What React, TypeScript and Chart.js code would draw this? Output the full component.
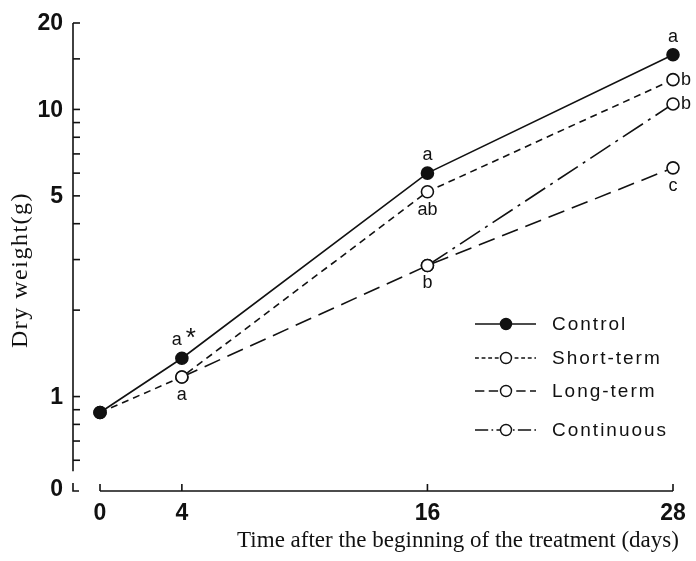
import React, { useEffect, useRef } from "react";
import { Chart, registerables } from "chart.js";

Chart.register(...registerables);

// ---- data ----
const days = [0, 4, 16, 28];
const control = [0.88, 1.36, 6.0, 15.5];
const shortTerm = [0.88, 1.17, 5.17, 12.7];
const longTerm = [null, 1.17, 2.86, 6.26];
const continuous = [null, null, 2.86, 10.45];
const seriesNames = ["Control", "Short-term", "Long-term", "Continuous"];

const yMajorTicks = [1, 5, 10, 20];
const yMinorTicks = [0.6, 0.7, 0.8, 0.9, 2, 3, 4, 6, 7, 8, 9, 15];
const xTickLabels = ["0", "4", "16", "28"];
const yBreakLabel = "0";

const xTitle = "Time after the beginning of the treatment (days)";
const yTitle = "Dry weight(g)";

// significance letters: series index, day index, text
const sigSeries = [0, 1, 0, 1, 2, 0, 1, 3, 2];
const sigDay = [1, 1, 2, 2, 2, 3, 3, 3, 3];
const sigText = ["a*", "a", "a", "ab", "b", "a", "b", "b", "c"];
// placement of letters relative to point
const sigPlace = ["above", "below", "above", "below", "below", "above", "right", "right", "below"];

const dashes: number[][] = [[], [7, 5], [17, 8], [24, 6, 3, 6]];
const fills = ["#111", "#fff", "#fff", "#fff"];

export default function App() {
  const ref = useRef<HTMLCanvasElement | null>(null);
  useEffect(() => {
    document.body.style.margin = "0";
    const canvas = ref.current!;
    const all = [control, shortTerm, longTerm, continuous];
    const datasets = all.map((vals, i) => ({
      label: seriesNames[i],
      data: days.map((d, j) => ({ x: d, y: vals[j] })),
      borderColor: "#111",
      borderWidth: 1.6,
      borderDash: dashes[i],
      pointRadius: 6,
      pointBorderWidth: 1.6,
      pointBackgroundColor: fills[i],
      pointBorderColor: "#111",
      showLine: true,
      spanGaps: false,
      tension: 0,
      clip: false as any,
    }));

    const axesPlugin = {
      id: "customAxes",
      afterDraw(chart: any) {
        const ctx = chart.ctx as CanvasRenderingContext2D;
        const xs = chart.scales.x;
        const ys = chart.scales.y;
        const left = chart.chartArea.left;
        ctx.save();
        ctx.strokeStyle = "#111";
        ctx.fillStyle = "#111";
        ctx.lineWidth = 1.6;
        ctx.setLineDash([]);
        // y axis line
        const yTop = ys.getPixelForValue(20);
        const yLow = ys.getPixelForValue(0.6) + 11;
        ctx.beginPath();
        ctx.moveTo(left, yTop);
        ctx.lineTo(left, yLow);
        ctx.stroke();
        const tickLen = 7;
        [...yMajorTicks, ...yMinorTicks].forEach((v) => {
          const p = ys.getPixelForValue(v);
          ctx.beginPath();
          ctx.moveTo(left, p);
          ctx.lineTo(left + tickLen, p);
          ctx.stroke();
        });
        ctx.font = 'bold 23px "Liberation Sans", Arial, sans-serif';
        ctx.textAlign = "right";
        ctx.textBaseline = "middle";
        yMajorTicks.forEach((v) => {
          const p = ys.getPixelForValue(v);
          ctx.fillText(String(v), left - 10, p + 1);
        });
        // axis break "L" and 0 label
        const xAxisY = ys.getPixelForValue(0.5) + 8;
        ctx.beginPath();
        ctx.moveTo(left, xAxisY - 8);
        ctx.lineTo(left, xAxisY);
        ctx.lineTo(left + 6, xAxisY);
        ctx.stroke();
        ctx.fillText(yBreakLabel, left - 10, xAxisY - 1);
        // x axis
        const x0 = xs.getPixelForValue(days[0]);
        const x1 = xs.getPixelForValue(days[days.length - 1]);
        ctx.beginPath();
        ctx.moveTo(x0, xAxisY);
        ctx.lineTo(x1, xAxisY);
        ctx.stroke();
        ctx.textAlign = "center";
        ctx.textBaseline = "top";
        days.forEach((d, i) => {
          const p = xs.getPixelForValue(d);
          ctx.beginPath();
          ctx.moveTo(p, xAxisY);
          ctx.lineTo(p, xAxisY - 7);
          ctx.stroke();
          ctx.fillText(xTickLabels[i], p, xAxisY + 11);
        });
        // titles
        ctx.font = '23px "Liberation Serif", "Times New Roman", serif';
        ctx.textBaseline = "middle";
        ctx.fillText(xTitle, 458, xAxisY + 50);
        ctx.save();
        ctx.translate(21, 270);
        ctx.rotate(-Math.PI / 2);
        ctx.font = '24px "Liberation Serif", "Times New Roman", serif';
        (ctx as any).letterSpacing = "1.5px";
        ctx.fillText(yTitle, 0, 0);
        (ctx as any).letterSpacing = "0px";
        ctx.restore();

        // significance letters
        const sigFont = '18px "Liberation Sans", Arial, sans-serif';
        ctx.font = sigFont;
        sigText.forEach((t, k) => {
          const meta = chart.getDatasetMeta(sigSeries[k]);
          const pt = meta.data[sigDay[k]];
          let tx = pt.x, ty = pt.y;
          ctx.textBaseline = "middle";
          if (sigPlace[k] === "above") { ctx.textAlign = "center"; ty -= 18; }
          else if (sigPlace[k] === "below") { ctx.textAlign = "center"; ty += 18; }
          else { ctx.textAlign = "left"; tx += 8; }
          if (t.endsWith("*")) {
            const base = t.slice(0, -1);
            ctx.fillText(base, tx - 5, ty);
            ctx.font = '26px "Liberation Sans", Arial, sans-serif';
            ctx.fillText("*", tx + 9, ty - 1);
            ctx.font = sigFont;
          } else {
            ctx.fillText(t, tx, ty);
          }
        });

        // legend
        const legRowY = [324, 358, 391, 430];
        const lm = 506, lx0 = lm - 31, lx1 = lm + 30, ltx = lm + 46;
        ctx.font = '19px "Liberation Sans", Arial, sans-serif';
        (ctx as any).letterSpacing = "2px";
        ctx.textAlign = "left";
        ctx.textBaseline = "middle";
        seriesNames.forEach((n, i) => {
          const y = legRowY[i];
          ctx.setLineDash(dashes[i].length ? dashes[i].map((v) => v * 0.55) : []);
          ctx.lineWidth = 1.4;
          ctx.beginPath();
          ctx.moveTo(lx0, y);
          ctx.lineTo(lx1, y);
          ctx.stroke();
          ctx.setLineDash([]);
          ctx.beginPath();
          ctx.arc(lm, y, 5.5, 0, Math.PI * 2);
          ctx.fillStyle = fills[i];
          ctx.fill();
          ctx.stroke();
          ctx.fillStyle = "#111";
          ctx.fillText(n, ltx, y + 1);
        });
        ctx.restore();
      },
    };

    const chart = new Chart(canvas, {
      type: "line",
      data: { datasets: datasets as any },
      options: {
        animation: false,
        responsive: false,
        devicePixelRatio: 1,
        layout: { padding: { left: 73, right: 23, top: 23, bottom: 78 } },
        plugins: { legend: { display: false }, tooltip: { enabled: false } },
        scales: {
          x: { type: "linear", min: -1.32, max: 28, display: false },
          y: { type: "logarithmic", min: 0.5, max: 20, display: false },
        },
      },
      plugins: [axesPlugin],
    });
    return () => chart.destroy();
  }, []);
  return (
    <div style={{ width: 696, height: 561, background: "#fff" }}>
      <canvas ref={ref} width={696} height={561} />
    </div>
  );
}
